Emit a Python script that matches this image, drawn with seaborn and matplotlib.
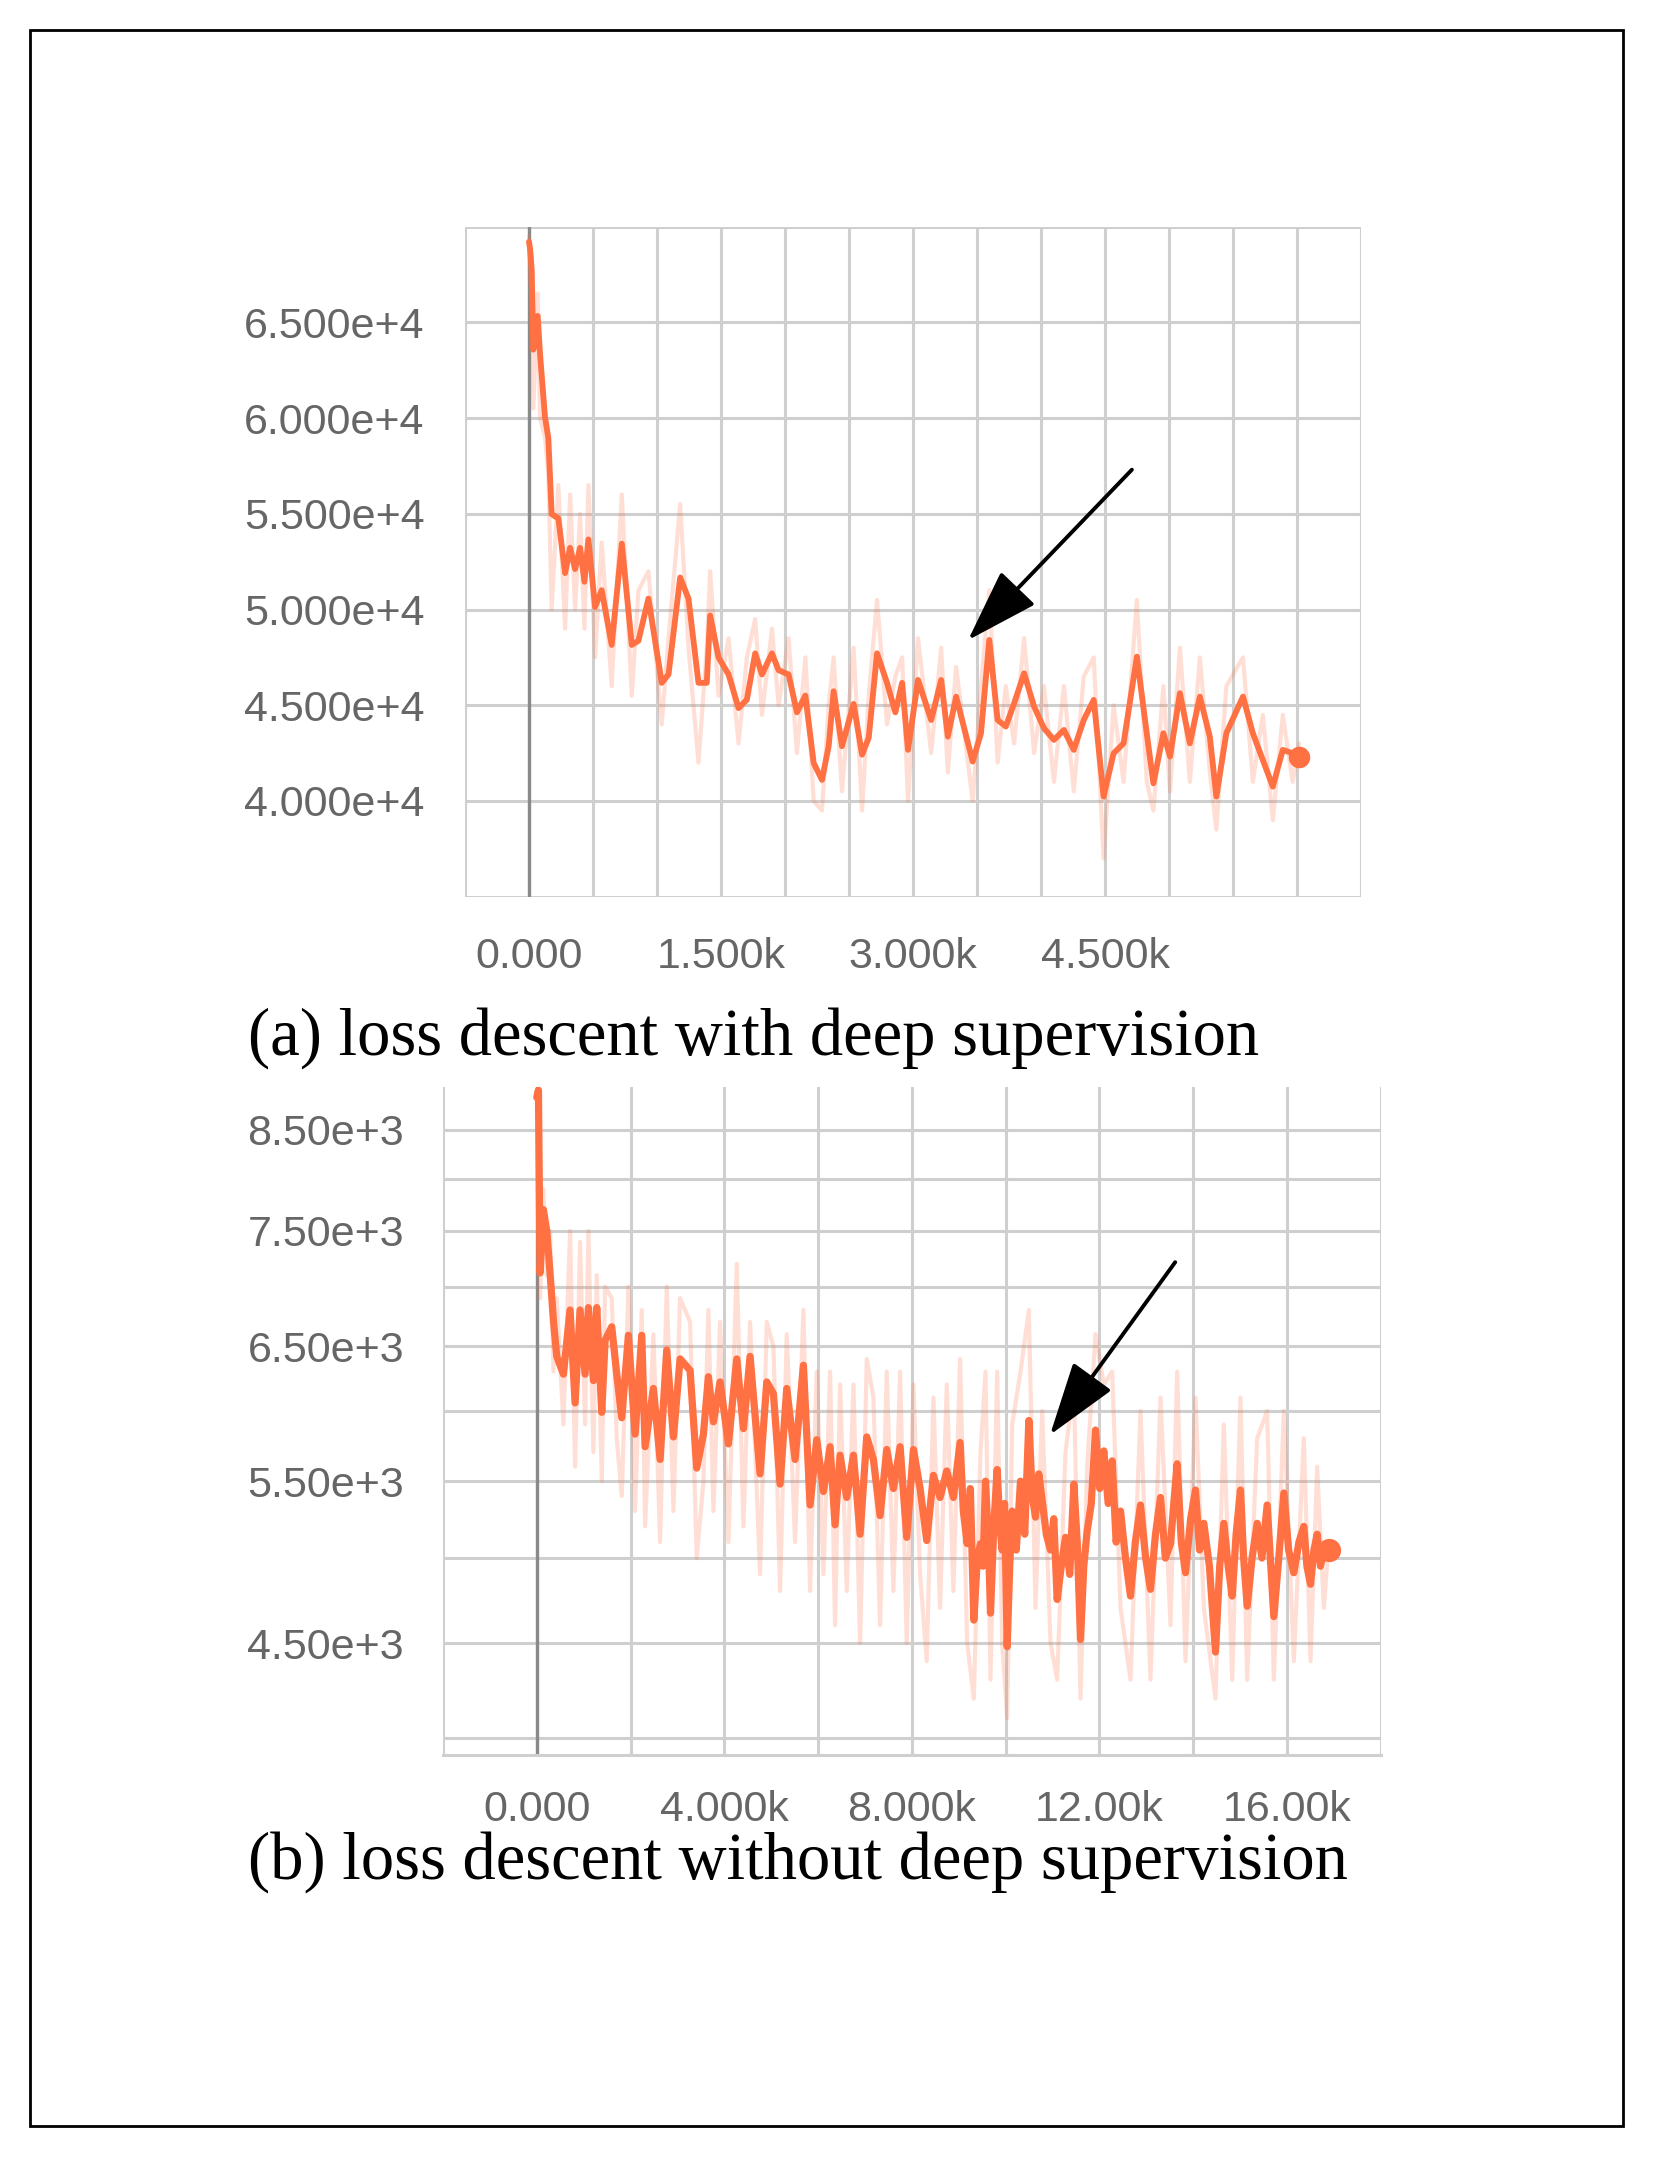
import numpy as np
import pandas as pd
import matplotlib
matplotlib.use("Agg")
import matplotlib.pyplot as plt
import seaborn as sns
from matplotlib.patches import Rectangle
from matplotlib.ticker import NullLocator

# ---------------- data: (a) with deep supervision ----------------
steps_a = [0, 8, 21, 34, 68, 86, 125, 151, 177, 229, 282, 321, 360, 399, 433, 464,
           516, 568, 646, 725, 803, 855, 933, 1037, 1090, 1181, 1246, 1324, 1389, 1415,
           1481, 1559, 1637, 1702, 1767, 1820, 1898, 1950, 2028, 2093, 2159, 2224, 2289,
           2341, 2380, 2445, 2536, 2602, 2654, 2719, 2797, 2862, 2915, 2961, 3039, 3142,
           3220, 3272, 3337, 3466, 3531, 3596, 3661, 3725, 3790, 3868, 3946, 4023, 4101,
           4179, 4256, 4334, 4412, 4489, 4567, 4645, 4749, 4826, 4878, 4956, 5008, 5085,
           5163, 5241, 5319, 5370, 5448, 5578, 5655, 5733, 5811, 5889, 5966, 6018]
smooth_a = [69200, 68850, 67750, 63570, 65330, 63350, 60050, 58950, 54980, 54760, 51900,
            53220, 52110, 53220, 51450, 53660, 50130, 51010, 48150, 53440, 48150, 48370,
            50570, 46170, 46610, 51670, 50570, 46170, 46170, 49690, 47490, 46610, 44850,
            45290, 47710, 46610, 47710, 46830, 46610, 44630, 45510, 41980, 41100, 42860,
            45730, 42860, 45070, 42420, 43300, 47710, 46170, 44630, 46170, 42670, 46320,
            44230, 46320, 43360, 45450, 42060, 43540, 48410, 44230, 43890, 45100, 46670,
            44930, 43800, 43190, 43710, 42670, 44230, 45280, 40230, 42490, 43010, 47540,
            43540, 40920, 43540, 42320, 45630, 43010, 45450, 43360, 40230, 43540, 45450,
            43540, 42140, 40750, 42670, 42490, 42320]
raw_a = [69500, 67000, 68500, 60500, 66500, 60000, 59000, 57000, 50000, 56500, 49000,
         56000, 50000, 55000, 49000, 56500, 47500, 53500, 46000, 56000, 45500, 51000,
         52000, 44000, 48500, 55500, 48000, 42000, 48000, 52000, 45500, 48500, 43000,
         47500, 49500, 44500, 49000, 45000, 48500, 42500, 47500, 40000, 39500, 45000,
         47500, 40500, 48000, 39500, 45500, 50500, 44000, 46500, 47500, 40000, 48500,
         42500, 48000, 41500, 47000, 40000, 46000, 51000, 42000, 46000, 43000, 48500,
         42500, 46000, 41000, 46000, 40500, 46500, 47500, 37000, 45000, 41000, 50500,
         41000, 39500, 46000, 40500, 48000, 41000, 47500, 41500, 38500, 46000, 47500,
         41000, 44500, 39000, 44500, 41000, 43000]

# ---------------- data: (b) without deep supervision ----------------
steps_b = [0, 36, 71, 142, 213, 284, 356, 427, 569, 711, 818, 924, 1031, 1102, 1209, 1280,
           1387, 1458, 1600, 1707, 1813, 1956, 2098, 2240, 2311, 2489, 2631, 2773, 2916,
           3058, 3271, 3413, 3556, 3662, 3769, 3911, 4089, 4267, 4409, 4551, 4764, 4907,
           5049, 5191, 5333, 5511, 5689, 5831, 5973, 6116, 6258, 6364, 6471, 6613, 6756,
           6898, 7040, 7182, 7324, 7467, 7609, 7751, 7893, 8036, 8178, 8320, 8462, 8604,
           8747, 8889, 9031, 9100, 9182, 9250, 9324, 9400, 9467, 9520, 9573, 9630, 9680,
           9750, 9822, 9880, 9929, 9980, 10036, 10090, 10142, 10230, 10320, 10410, 10498,
           10570, 10640, 10710, 10782, 10870, 10960, 11030, 11102, 11190, 11280, 11370,
           11458, 11530, 11600, 11670, 11742, 11830, 11920, 12010, 12098, 12190, 12276,
           12360, 12454, 12560, 12667, 12770, 12880, 12990, 13093, 13200, 13307, 13410,
           13520, 13590, 13662, 13750, 13840, 13950, 14053, 14140, 14231, 14350, 14480,
           14570, 14658, 14750, 14836, 14920, 15013, 15080, 15156, 15260, 15369, 15470,
           15582, 15650, 15724, 15830, 15938, 16040, 16151, 16260, 16364, 16430, 16507,
           16580, 16649, 16720, 16791, 16898]
smooth_b = [8850, 8930, 7120, 7700, 7500, 7120, 6710, 6420, 6280, 6800, 6060, 6800, 6280,
            6820, 6230, 6820, 5990, 6550, 6660, 6280, 5950, 6590, 5830, 6590, 5740, 6170,
            5650, 6470, 5810, 6400, 6310, 5590, 5830, 6260, 5920, 6220, 5760, 6400, 5870,
            6420, 5550, 6220, 6130, 5480, 6170, 5650, 6350, 5340, 5790, 5430, 5740, 5210,
            5680, 5390, 5680, 5150, 5810, 5650, 5270, 5720, 5450, 5740, 5130, 5720, 5450,
            5110, 5540, 5390, 5570, 5390, 5770, 5300, 5090, 5450, 4630, 5000, 5090, 4950,
            5500, 5150, 4670, 5200, 5580, 5200, 5050, 5350, 4480, 4950, 5300, 5050, 5500,
            5150, 5930, 5400, 5260, 5550, 5370, 5150, 5050, 5250, 4750, 4950, 5130, 4900,
            5480, 5100, 4520, 4950, 5170, 5350, 5860, 5450, 5710, 5350, 5640, 5100, 5300,
            5000, 4770, 5100, 5340, 5000, 4810, 5150, 5390, 5000, 5090, 5350, 5620, 5100,
            4910, 5250, 5440, 5050, 5220, 4950, 4450, 4950, 5220, 4950, 4770, 5150, 5440,
            5000, 4710, 5000, 5220, 5000, 5340, 5000, 4650, 5000, 5420, 5050, 4910, 5100,
            5200, 4950, 4840, 5050, 5150, 4950, 5050, 5050]

steps_b_raw = [0, 36, 71, 142, 213, 284, 356, 427, 569, 711, 818, 924, 1031, 1102, 1209,
               1280, 1387, 1458, 1600, 1707, 1813, 1956, 2098, 2240, 2311, 2489, 2631, 2773,
               2916, 3058, 3271, 3413, 3556, 3662, 3769, 3911, 4089, 4267, 4409, 4551, 4764,
               4907, 5049, 5191, 5333, 5511, 5689, 5831, 5973, 6116, 6258, 6364, 6471, 6613,
               6756, 6898, 7040, 7182, 7324, 7467, 7609, 7751, 7893, 8036, 8178, 8320, 8462,
               8604, 8747, 8889, 9031, 9182, 9324, 9467, 9573, 9680, 9822, 9929, 10036,
               10142, 10320, 10498, 10640, 10782, 10960, 11102, 11280, 11458, 11600, 11742,
               11920, 12098, 12276, 12454, 12667, 12880, 13093, 13307, 13520, 13662, 13840,
               14053, 14231, 14480, 14658, 14836, 15013, 15156, 15369, 15582, 15724, 15938,
               16151, 16364, 16507, 16649, 16791, 16898]
raw_b = [8900, 8700, 6900, 7900, 7100, 7500, 6300, 6900, 5900, 7500, 5600, 7400, 5900,
         7500, 5700, 7100, 5500, 7000, 6900, 5800, 5400, 7000, 5300, 6800, 5200, 6600,
         5100, 7000, 5300, 6900, 6700, 5000, 5500, 6800, 5300, 6700, 5100, 7200, 5200,
         6700, 4900, 6700, 6500, 4800, 6600, 5100, 6800, 4800, 6300, 4900, 6300, 4600,
         6200, 4800, 6200, 4500, 6400, 6100, 4600, 6300, 4800, 6300, 4500, 6200, 4900,
         4400, 6100, 4700, 6200, 4800, 6400, 4500, 4200, 5700, 6300, 4300, 6300, 4500,
         4100, 5900, 6300, 6800, 4700, 6000, 4500, 4300, 5700, 6200, 4200, 5600, 6600,
         6200, 6300, 4700, 4300, 6000, 4300, 6100, 4600, 6300, 4400, 6100, 4700, 4200,
         5900, 4300, 6100, 4300, 5800, 6000, 4300, 6000, 4400, 5800, 4400, 5600, 4700,
         5100]

# tick definitions
xgrid_a = [-500, 0, 500, 1000, 1500, 2000, 2500, 3000, 3500, 4000, 4500, 5000, 5500, 6000, 6500]
xlab_a = {0: "0.000", 1500: "1.500k", 3000: "3.000k", 4500: "4.500k"}
ygrid_a = [35000, 40000, 45000, 50000, 55000, 60000, 65000, 70000]
ylab_a = {40000: "4.000e+4", 45000: "4.500e+4", 50000: "5.000e+4", 55000: "5.500e+4",
          60000: "6.000e+4", 65000: "6.500e+4"}
xgrid_b = [-2000, 0, 2000, 4000, 6000, 8000, 10000, 12000, 14000, 16000, 18000]
xlab_b = {0: "0.000", 4000: "4.000k", 8000: "8.000k", 12000: "12.00k", 16000: "16.00k"}
ygrid_b = [4000, 4500, 5000, 5500, 6000, 6500, 7000, 7500, 8000, 8500]
ylab_b = {4500: "4.50e+3", 5500: "5.50e+3", 6500: "6.50e+3", 7500: "7.50e+3", 8500: "8.50e+3"}

caption_a = "(a) loss descent with deep supervision"
caption_b = "(b) loss descent without deep supervision"

df_a_s = pd.DataFrame({"step": steps_a, "loss": smooth_a})
df_a_r = pd.DataFrame({"step": steps_a, "loss": raw_a})
df_b_s = pd.DataFrame({"step": steps_b, "loss": smooth_b})
df_b_r = pd.DataFrame({"step": steps_b_raw, "loss": raw_b})

sns.set_style("white")
plt.rcParams["font.family"] = ["Liberation Sans", "DejaVu Sans"]

W, H = 1653, 2165
fig = plt.figure(figsize=(W / 100, H / 100), dpi=100)
fig.patch.set_facecolor("white")

ORANGE = "#ff7043"
GRID = "#cfcfcf"
LABEL = "#666666"


def style_axes(ax, xgrid, xlab, ygrid, ylab, xpad, ypad):
    for s in ax.spines.values():
        s.set_visible(False)
    ax.set_xticks(xgrid)
    ax.set_xticklabels([xlab.get(v, "") for v in xgrid])
    ax.set_yticks(ygrid)
    ax.set_yticklabels([ylab.get(v, "") for v in ygrid])
    ax.yaxis.set_minor_locator(NullLocator())
    ax.xaxis.set_minor_locator(NullLocator())
    ax.grid(True, color=GRID, lw=2.2, zorder=0)
    ax.tick_params(axis="both", length=13, width=2.2, color=GRID, labelcolor=LABEL,
                   labelsize=31)
    ax.tick_params(axis="x", pad=xpad)
    ax.tick_params(axis="y", pad=ypad)
    ax.set_xlabel("")
    ax.set_ylabel("")
    ax.axvline(0, color="#8a8a8a", lw=2.4, zorder=1)


ARROW = dict(arrowstyle="-|>,head_length=46,head_width=15", mutation_scale=1,
             color="black", lw=2.8, shrinkA=0, shrinkB=0)

# ---- (a) ----
ax1 = fig.add_axes([465 / W, 1 - 896.75 / H, 896 / W, 670.25 / H])
sns.lineplot(data=df_a_r, x="step", y="loss", ax=ax1, color=ORANGE, alpha=0.22,
             linewidth=3.0, zorder=2)
sns.lineplot(data=df_a_s, x="step", y="loss", ax=ax1, color=ORANGE, linewidth=4.2, zorder=3)
ax1.scatter([steps_a[-1]], [smooth_a[-1]], s=240, color=ORANGE, zorder=4, lw=0)
ax1.set_xlim(-500, 6500)
ax1.set_ylim(35000, 70000)
style_axes(ax1, xgrid_a, xlab_a, ygrid_a, ylab_a, xpad=16, ypad=16)
ax1.annotate("", xy=(3430, 48400), xytext=(4710, 57300), arrowprops=ARROW, zorder=6)

# ---- (b) ----
ax2 = fig.add_axes([443 / W, 1 - 1755 / H, 937.5 / W, 668 / H])
ax2.set_yscale("log")
sns.lineplot(data=df_b_r, x="step", y="loss", ax=ax2, color=ORANGE, alpha=0.22,
             linewidth=3.0, zorder=2)
sns.lineplot(data=df_b_s, x="step", y="loss", ax=ax2, color=ORANGE, linewidth=5.2, zorder=3)
ax2.scatter([steps_b[-1]], [smooth_b[-1]], s=280, color=ORANGE, zorder=4, lw=0)
ax2.set_xlim(-2000, 18000)
ax2.set_ylim(3917, 8965)
style_axes(ax2, xgrid_b, xlab_b, ygrid_b, ylab_b, xpad=12, ypad=15)
ax2.spines["bottom"].set_visible(True)
ax2.spines["bottom"].set_color(GRID)
ax2.spines["bottom"].set_linewidth(2.2)
ax2.annotate("", xy=(10950, 5825), xytext=(13620, 7215), arrowprops=ARROW, zorder=6)

# captions
fig.text(248 / W, 1 - 1038 / H, caption_a, family=["Liberation Serif", "DejaVu Serif"],
         fontsize=48, color="black", ha="left", va="center")
fig.text(248 / W, 1 - 1862 / H, caption_b, family=["Liberation Serif", "DejaVu Serif"],
         fontsize=48, color="black", ha="left", va="center")

# page border
fig.patches.append(Rectangle((30 / W, 1 - 2126 / H), (1623 - 30) / W, (2126 - 30) / H,
                             transform=fig.transFigure, fill=False, ec="black", lw=2.0))

fig.savefig("out.png", dpi=100, facecolor="white")
